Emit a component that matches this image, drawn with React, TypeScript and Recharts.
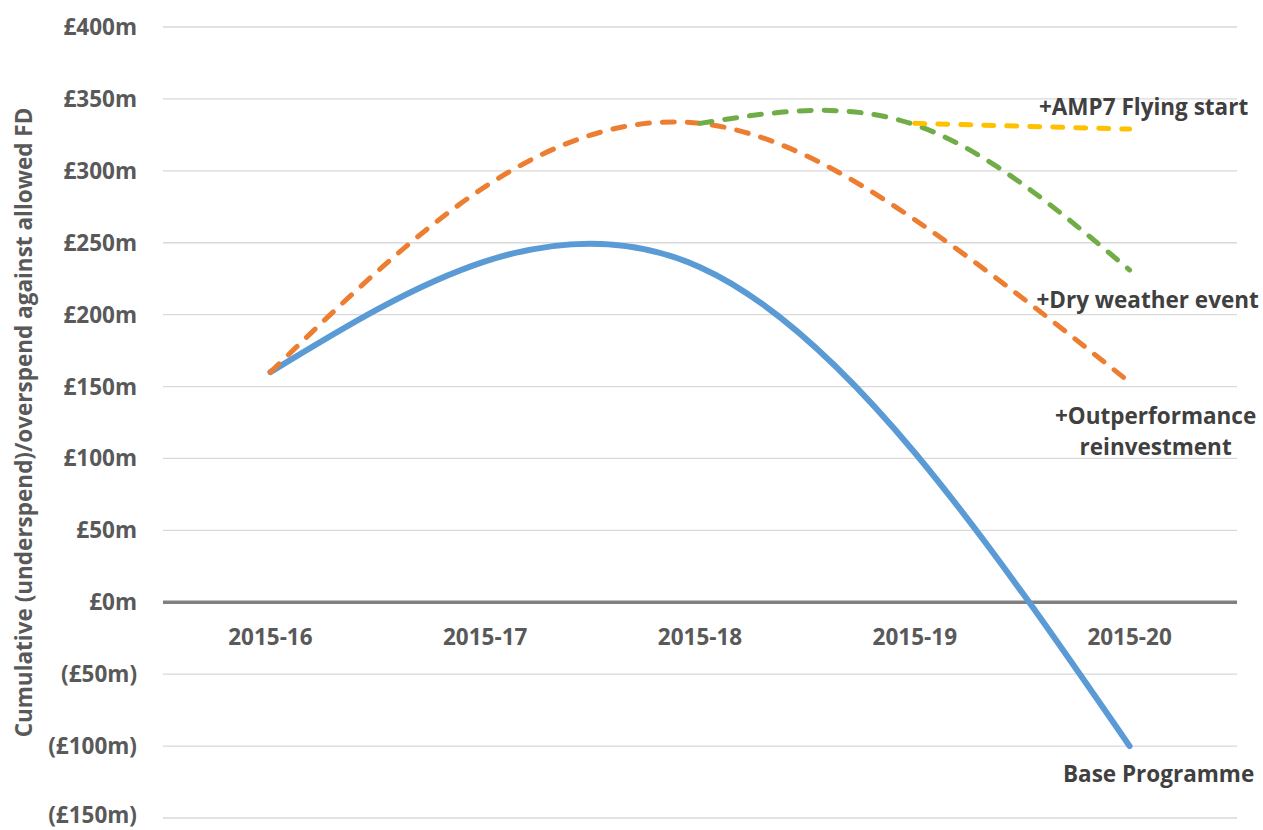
import React from 'react';
import { LineChart, Line, XAxis, YAxis, CartesianGrid, ReferenceLine, ReferenceDot } from 'recharts';

const categories = ['2015-16', '2015-17', '2015-18', '2015-19', '2015-20'];
const basePROGRAMME = [160, 237, 233, 104, -100];
const outperformance = [160, 289, 333, 266, 153];
const dryWeather: (number | null)[] = [null, null, 333, 332, 231];
const amp7: (number | null)[] = [null, null, null, 333, 329];
const yTicks = [-150, -100, -50, 0, 50, 100, 150, 200, 250, 300, 350, 400];

const seriesLabels = {
  base: ['Base Programme'],
  outperformance: ['+Outperformance', 'reinvestment'],
  dry: ['+Dry weather event'],
  amp7: ['+AMP7 Flying start'],
};

const data = categories.map((c, i) => ({
  cat: c,
  base: basePROGRAMME[i],
  outperformance: outperformance[i],
  dry: dryWeather[i],
  amp7: amp7[i],
}));

const FONT = '"Open Sans", "Noto Sans", sans-serif';
const AXIS_COLOR = '#595959';
const LABEL_COLOR = '#404040';
const FS = 22.5;

const fmt = (v: number) => (v < 0 ? `(£${-v}m)` : `£${v}m`);

const YTick = (props: any) => {
  const { x, y, payload } = props;
  const v = payload?.value;
  const shift = v === yTicks[0] ? -2.5 : 0;
  return (
    <text
      x={x}
      y={y + shift}
      dy="0.355em"
      textAnchor="end"
      fill={AXIS_COLOR}
      fontFamily={FONT}
      fontWeight={700}
      fontSize={FS}
    >
      {fmt(v)}
    </text>
  );
};

const endLabel = (lines: string[], dx: number, dy: number) => (props: any) => {
  const { x, y, index } = props;
  if (index !== categories.length - 1 || x == null || y == null) return null;
  return (
    <text
      key={`lbl-${lines[0]}`}
      x={x + dx}
      y={y + dy}
      textAnchor="middle"
      fill={LABEL_COLOR}
      fontFamily={FONT}
      fontWeight={700}
      fontSize={FS}
    >
      {lines.map((l, i) => (
        <tspan key={i} x={x + dx} dy={i === 0 ? 0 : 31}>
          {l}
        </tspan>
      ))}
    </text>
  );
};

const CatTick = (cat: string) => (props: any) => {
  const { cx, cy } = props;
  if (cx == null || cy == null) return null;
  return (
    <text
      x={cx}
      y={cy + 34}
      textAnchor="middle"
      dominantBaseline="central"
      fill={AXIS_COLOR}
      fontFamily={FONT}
      fontWeight={700}
      fontSize={FS}
    >
      {cat}
    </text>
  );
};

export default function App() {
  return (
    <div style={{ position: 'absolute', left: 0, top: 0, background: '#fff' }}>
      <LineChart
        width={1263}
        height={830}
        data={data}
        margin={{ top: 27, right: 26, bottom: 12, left: 0 }}
      >
        <CartesianGrid vertical={false} stroke="#d9d9d9" strokeWidth={1.3} />
        <XAxis dataKey="cat" scale="band" hide />
        <YAxis
          width={163}
          domain={[-150, 400]}
          ticks={yTicks}
          axisLine={false}
          tickLine={false}
          tickMargin={20}
          interval={0}
          tick={YTick}
          label={{
            content: (p: any) => {
              const vb = p.viewBox || {};
              const cy = (vb.y ?? 27) + (vb.height ?? 791) / 2;
              return (
                <text
                  x={23}
                  y={cy}
                  transform={`rotate(-90, 23, ${cy})`}
                  textAnchor="middle"
                  dominantBaseline="central"
                  fill={AXIS_COLOR}
                  fontFamily={FONT}
                  fontWeight={700}
                  fontSize={FS}
                >
                  Cumulative (underspend)/overspend against allowed FD
                </text>
              );
            },
          }}
        />
        <ReferenceLine y={0} stroke="#808080" strokeWidth={3.5} />
        {categories.map((c) => (
          <ReferenceDot key={c} x={c} y={0} r={0} shape={CatTick(c)} ifOverflow="visible" />
        ))}
        <Line
          type="natural"
          dataKey="base"
          stroke="#5B9BD5"
          strokeWidth={6}
          strokeLinecap="round"
          dot={false}
          isAnimationActive={false}
          label={endLabel(seriesLabels.base, 29, 36)}
        />
        <Line
          type="natural"
          dataKey="outperformance"
          stroke="#ED7D31"
          strokeWidth={5}
          strokeDasharray="12 13"
          strokeLinecap="round"
          dot={false}
          isAnimationActive={false}
          label={endLabel(seriesLabels.outperformance, 26, 42)}
        />
        <Line
          type="natural"
          dataKey="dry"
          stroke="#70AD47"
          strokeWidth={5}
          strokeDasharray="12 13"
          strokeLinecap="round"
          dot={false}
          isAnimationActive={false}
          label={endLabel(seriesLabels.dry, 18, 38)}
        />
        <Line
          type="natural"
          dataKey="amp7"
          stroke="#FFC000"
          strokeWidth={5}
          strokeDasharray="10 13"
          strokeLinecap="round"
          dot={false}
          isAnimationActive={false}
          label={endLabel(seriesLabels.amp7, 14, -14)}
        />
      </LineChart>
    </div>
  );
}
